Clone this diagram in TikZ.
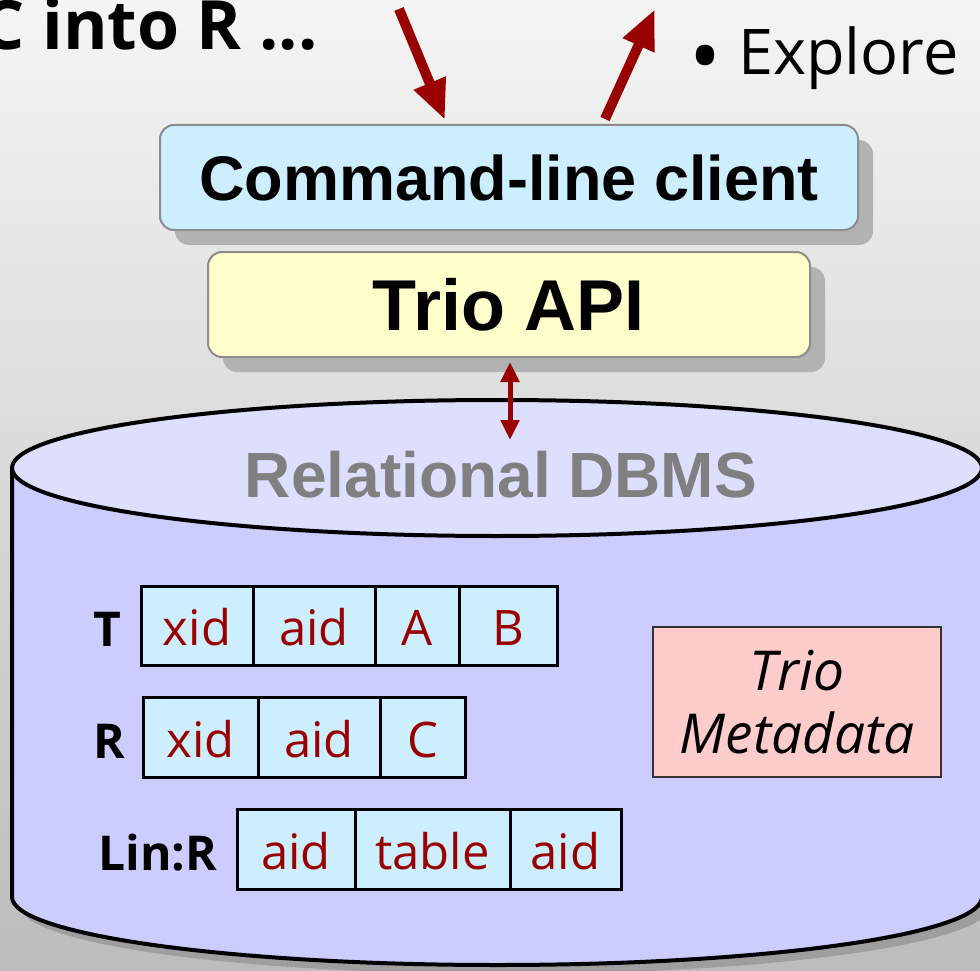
\documentclass[tikz,border=0pt]{standalone}
\usepackage{fontspec}
\usetikzlibrary{arrows.meta}
\newfontfamily\arialf{Liberation Sans}
\newfontfamily\lucf{Open Sans}
\definecolor{dred}{HTML}{990000}
\definecolor{bgtop}{HTML}{F5F5F5}
\definecolor{bgbot}{HTML}{BCBCBC}
\definecolor{cmdfill}{HTML}{CCEEFF}
\definecolor{apifill}{HTML}{FFFFCC}
\definecolor{boxline}{HTML}{8C8C8C}
\definecolor{cylbody}{HTML}{CCCCFF}
\definecolor{cyltop}{HTML}{DEDEFF}
\definecolor{metafill}{HTML}{FFCCCC}
\definecolor{dbgrey}{HTML}{808080}
\tikzset{
  layerbox/.style={draw=boxline, line width=2pt, rounded corners=14pt,
    preaction={fill=black!30, transform canvas={xshift=15pt, yshift=-15pt}}},
  cell/.style={draw=black, line width=3pt, fill=cmdfill, text=dred, anchor=west, outer sep=0pt,
    font=\lucf\fontsize{49}{50}\selectfont, text height=40pt, text depth=-3pt, inner sep=0pt},
  tlabel/.style={font=\lucf\bfseries\fontsize{48}{50}\selectfont, anchor=base, inner sep=0pt},
  bigarrow/.style={draw=dred, line width=10pt, -{Triangle[length=40pt,width=32pt]}},
  dblarrow/.style={draw=dred, line width=5pt, {Triangle[length=20pt,width=18pt]}-{Triangle[length=20pt,width=18pt]}},
}
\begin{document}
\begin{tikzpicture}[x=1pt,y=-1pt]
\useasboundingbox (0,0) rectangle (980,971);
\clip (0,0) rectangle (980,971);
\shade[top color=bgtop, bottom color=bgbot] (0,0) rectangle (980,971);

% header texts
\node[font=\lucf\bfseries\fontsize{68}{70}\selectfont, anchor=base east, inner sep=0pt] (title) at (318,50) {C into R ...};
\node[font=\lucf\fontsize{85}{90}\selectfont, inner sep=0pt] (bullet) at (705,66) {\textbullet};
\node[font=\lucf\fontsize{63}{70}\selectfont, anchor=base west, inner sep=0pt] (explore) at (738,75) {Explore};

% cylinder shadow
\begin{scope}[shift={(8,9)}]
\fill[black!38] (12,468) -- (12,897) arc[start angle=180,end angle=360,x radius=485pt,y radius=68pt] -- (982,468) arc[start angle=0,end angle=180,x radius=485pt,y radius=68pt] -- cycle;
\end{scope}
% cylinder
\fill[cylbody] (12,468) -- (12,897) arc[start angle=180,end angle=360,x radius=485pt,y radius=68pt] -- (982,468) arc[start angle=0,end angle=180,x radius=485pt,y radius=68pt] -- cycle;
\draw[line width=4pt] (12,468) -- (12,897) arc[start angle=180,end angle=360,x radius=485pt,y radius=68pt] -- (982,468);
\draw[line width=4pt, fill=cyltop] (497,468) ellipse[x radius=485pt, y radius=68pt];
\node[font=\arialf\bfseries\fontsize{64}{70}\selectfont, text=dbgrey, anchor=base, inner sep=0pt] (dbms) at (501,497) {Relational DBMS};
\coordinate (dbtop) at (510,440);

% layer boxes
\node[layerbox, fill=cmdfill, minimum width=698pt, minimum height=105pt, inner sep=0pt,
  font=\arialf\bfseries\fontsize{63}{70}\selectfont] (cmd) at (509,177.5) {Command-line client};
\node[layerbox, fill=apifill, minimum width=602pt, minimum height=105pt, inner sep=0pt,
  font=\arialf\bfseries\fontsize{72}{80}\selectfont] (api) at (509,304.5) {Trio API};

% arrows
\coordinate (in0) at (399,9);
\coordinate (in1) at (445,120);
\coordinate (out0) at (605,119);
\coordinate (out1) at (655,9);
\draw[bigarrow] (in0) -- (in1);
\draw[bigarrow] (out0) -- (out1);
\coordinate (apibot) at (510,362);
\draw[dblarrow] (apibot) -- (dbtop);

% table T
\node[tlabel] (lT) at (107,646) {T};
\node[cell, minimum width=112pt, minimum height=79pt] (t1) at (141,625.5) {xid};
\node[cell, minimum width=122pt, minimum height=79pt] (t2) at (t1.east) {aid};
\node[cell, minimum width=84pt, minimum height=79pt] (t3) at (t2.east) {A};
\node[cell, minimum width=98pt, minimum height=79pt] (t4) at (t3.east) {B};

% table R
\node[tlabel] (lR) at (109,758) {R};
\node[cell, minimum width=115pt, minimum height=80pt] (r1) at (143,737) {xid};
\node[cell, minimum width=122pt, minimum height=80pt] (r2) at (r1.east) {aid};
\node[cell, minimum width=85pt, minimum height=80pt] (r3) at (r2.east) {C};

% table Lin:R
\node[tlabel] (lL) at (158,870) {Lin:R};
\node[cell, minimum width=118pt, minimum height=80pt] (l1) at (237,849) {aid};
\node[cell, minimum width=155pt, minimum height=80pt] (l2) at (l1.east) {table};
\node[cell, minimum width=111pt, minimum height=80pt] (l3) at (l2.east) {aid};

% metadata
\node[draw=black!80, line width=2pt, fill=metafill, minimum width=288pt, minimum height=150pt,
  align=center, font=\lucf\itshape\fontsize{55}{63}\selectfont] (meta) at (797,702) {Trio\\Metadata};
\end{tikzpicture}
\end{document}
